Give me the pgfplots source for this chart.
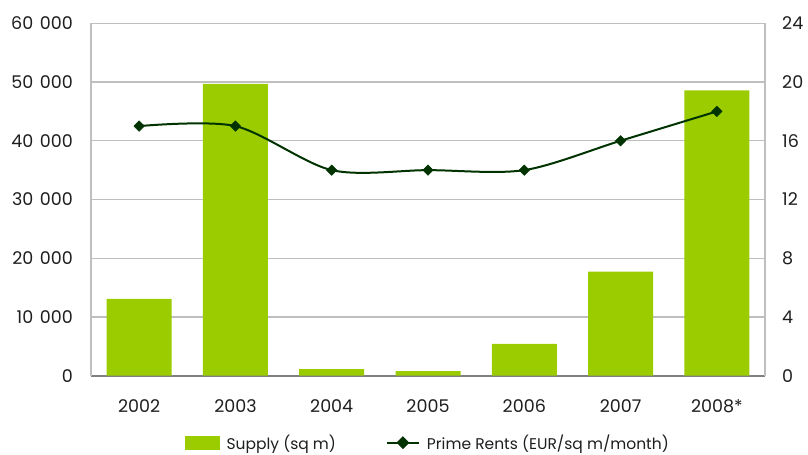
\documentclass[border=0pt]{standalone}
\usepackage{pgfplots}
\pgfplotsset{compat=1.18}
\usepackage{fontspec}
\setmainfont{Poppins}

\definecolor{barg}{RGB}{155,204,0}
\definecolor{rentg}{RGB}{0,51,0}
\definecolor{gridg}{RGB}{191,191,191}
\definecolor{axisg}{RGB}{128,128,128}
\definecolor{txt}{RGB}{30,30,30}

\begin{document}
\begin{tikzpicture}
\useasboundingbox (-91bp,-79.3bp) rectangle (717bp,375.7bp);

% Supply (left scale)
\begin{axis}[
  scale only axis,
  width=674bp, height=352.4bp,
  xmin=-0.5, xmax=6.5,
  ymin=0, ymax=60000,
  axis x line*=bottom,
  axis y line*=left,
  x axis line style={draw=axisg, line width=2bp, -},
  y axis line style={draw=gridg, line width=1.3bp, -},
  xtick={0,...,6},
  xticklabels={2002,2003,2004,2005,2006,2007,2008*},
  ytick={0,10000,...,60000},
  scaled y ticks=false,
  /pgf/number format/fixed,
  /pgf/number format/precision=0,
  /pgf/number format/1000 sep={\hspace{6.5bp}},
  /pgf/number format/assume math mode=true,
  major tick length=0pt,
  ymajorgrids,
  grid style={draw=gridg, line width=1.3bp},
  tick label style={font=\fontsize{17.5bp}{20bp}\selectfont, text=txt},
  xticklabel style={anchor=base, inner sep=0pt, yshift=-37bp},
  yticklabel style={anchor=east, inner sep=0pt, xshift=-18bp},
]
\addplot[ybar, bar width=65bp, fill=barg, draw=none] coordinates {
  (0,13100) (1,49700) (2,1100) (3,800) (4,5400) (5,17700) (6,48600)
};
\end{axis}

% Prime rents (right scale)
\begin{axis}[
  scale only axis,
  width=674bp, height=352.4bp,
  xmin=-0.5, xmax=6.5,
  ymin=0, ymax=24,
  axis x line=none,
  axis y line*=right,
  y axis line style={draw=gridg, line width=1.3bp, -},
  ytick={0,4,...,24},
  major tick length=0pt,
  /pgf/number format/assume math mode=true,
  tick label style={font=\fontsize{17.5bp}{20bp}\selectfont, text=txt},
  yticklabel style={anchor=west, inner sep=0pt, xshift=17bp},
  legend columns=2,
  legend style={draw=none, fill=none, at={(axis description cs:0.5,-0.19)}, anchor=center,
    font=\fontsize{15.5bp}{18bp}\selectfont, text=txt, inner sep=0pt,
    /tikz/every even column/.append style={column sep=48bp}},
  legend cell align=left,
]
\addlegendimage{legend image code/.code={\fill[barg] (0bp,-6.5bp) rectangle (34bp,6.5bp);}}
\addlegendentry{\hspace{5bp}Supply (sq m)}
\addplot[draw=rentg, line width=2bp, smooth, mark=square*, mark size=3.7bp,
  mark options={rotate=45, fill=rentg, draw=rentg, line width=0.5bp},
  legend image code/.code={
    \draw[rentg, line width=2bp] (0bp,0bp) -- (32bp,0bp);
    \fill[rentg] (16bp,0bp) ++(0bp,5bp) -- ++(5bp,-5bp) -- ++(-5bp,-5bp) -- ++(-5bp,5bp) -- cycle;
  }] coordinates {
  (0,17) (1,17) (2,14) (3,14) (4,14) (5,16) (6,18)
};
\addlegendentry{\hspace{5bp}Prime Rents (EUR/sq m/month)}
\end{axis}
\end{tikzpicture}
\end{document}
